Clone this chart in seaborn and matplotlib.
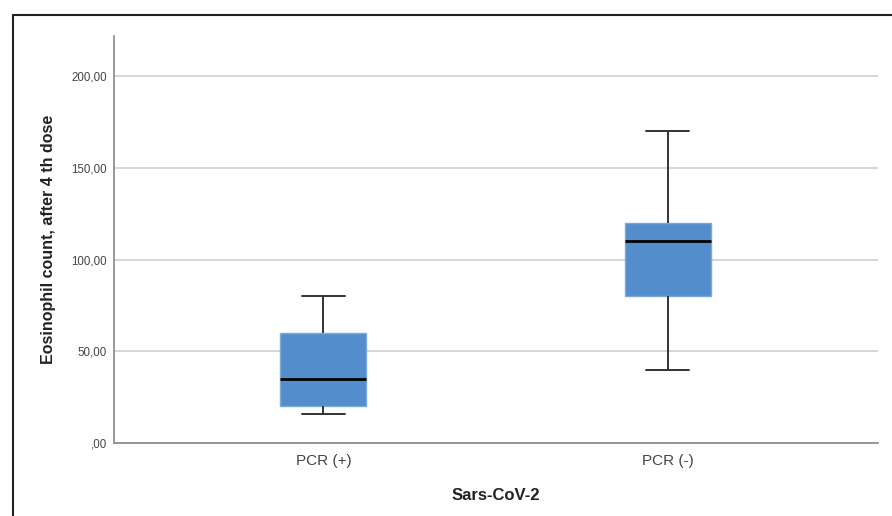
import numpy as np
import pandas as pd
import matplotlib
matplotlib.use("Agg")
import matplotlib.pyplot as plt
from matplotlib.ticker import FuncFormatter
from matplotlib.lines import Line2D
import seaborn as sns

# five-number values for each group
groups = ["PCR (+)", "PCR (-)"]
pcr_pos = [16, 20, 35, 60, 80]
pcr_neg = [40, 80, 110, 120, 170]
y_ticks = [0, 50, 100, 150, 200]

df = pd.DataFrame({
    "group": [groups[0]] * len(pcr_pos) + [groups[1]] * len(pcr_neg),
    "count": pcr_pos + pcr_neg,
})

sns.set_theme(style="white")
plt.rcParams["font.family"] = ["Liberation Sans", "DejaVu Sans"]

fig = plt.figure(figsize=(8.92, 5.16), dpi=100)
ax = fig.add_axes([114 / 892, 1 - 443 / 516, (878 - 114) / 892, (443 - 36) / 516])

box_color = "#538dcc"
sns.boxplot(data=df, x="group", y="count", order=groups, ax=ax,
            color=box_color, width=0.25, whis=1.5, saturation=1,
            boxprops=dict(facecolor=box_color, edgecolor="#7aa9dc", linewidth=1),
            medianprops=dict(color="black", linewidth=2),
            whiskerprops=dict(color="#333333", linewidth=1.4),
            capprops=dict(color="#333333", linewidth=1.4),
            flierprops=dict(marker="o"))

ax.set_xlim(-0.608, 1.610)
ax.set_ylim(0, 222)
ax.set_yticks(y_ticks)
ax.yaxis.set_major_formatter(FuncFormatter(
    lambda v, p: ",00" if v == 0 else f"{v:.2f}".replace(".", ",")))
ax.grid(axis="y", color="#cfcfcf", linewidth=1.2)
ax.set_axisbelow(True)

for s in ["top", "right"]:
    ax.spines[s].set_visible(False)
for s in ["left", "bottom"]:
    ax.spines[s].set_color("#888888")
    ax.spines[s].set_linewidth(1.2)

ax.tick_params(axis="y", length=0, pad=5, labelsize=8.3, labelcolor="#444444")
ax.tick_params(axis="x", length=0, pad=8, labelsize=11, labelcolor="#444444")
ax.set_xlabel("Sars-CoV-2", fontsize=12, fontweight="bold", color="#222222", labelpad=14)
ax.set_ylabel("Eosinophil count, after 4 th dose", fontsize=11.5, fontweight="bold",
              color="#222222", labelpad=11)

# outer frame like the exported chart
fig.add_artist(Line2D([12.5 / 892, 1], [1 - 14.5 / 516, 1 - 14.5 / 516],
                      transform=fig.transFigure, color="#222222", linewidth=1.5))
fig.add_artist(Line2D([12.5 / 892, 12.5 / 892], [0, 1 - 14.5 / 516],
                      transform=fig.transFigure, color="#222222", linewidth=1.5))

fig.savefig("out.png", dpi=100, facecolor="white")
